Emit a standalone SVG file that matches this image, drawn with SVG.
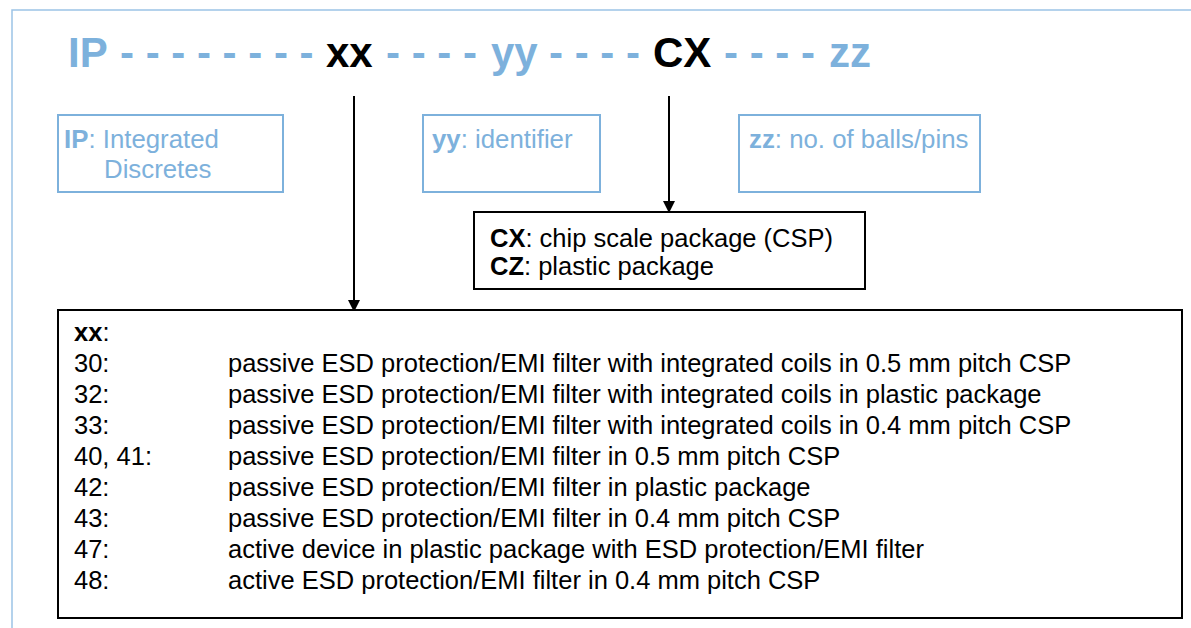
<svg xmlns="http://www.w3.org/2000/svg" width="1191" height="628" viewBox="0 0 1191 628">
<style>
text{font-family:"Liberation Sans",Arial,sans-serif}
.title{font-size:42px;font-weight:bold}
.blue{fill:#7db1dc}
.blk{fill:#000}
.bbox{fill:none;stroke:#7db1dc;stroke-width:2}
.kbox{fill:#fff;stroke:#000;stroke-width:2}
.lbl{font-size:25.8px}
.row{font-size:25.5px;fill:#000}
.b{font-weight:bold}
.conn{stroke:#000;stroke-width:2;fill:none}
</style>
<defs>
<marker id="arr" markerWidth="12" markerHeight="14" refX="10" refY="6" orient="auto" markerUnits="userSpaceOnUse" viewBox="0 0 12 12">
<path d="M0,0 L12,6 L0,12 Z" fill="#000"/>
</marker>
</defs>
<rect width="1191" height="628" fill="#fff"/>
<rect x="12" y="10" width="1200" height="640" fill="none" stroke="#9cc3e6" stroke-width="1.5"/>
<g id="title">
<text class="title" y="67"><tspan class="blue" x="68">IP</tspan><tspan class="blue" x="120">- - - - - - - -</tspan><tspan class="blk" x="326">xx</tspan><tspan class="blue" x="386">- - - -</tspan><tspan class="blue" x="491">yy</tspan><tspan class="blue" x="549">- - - -</tspan><tspan class="blk" x="653">CX</tspan><tspan class="blue" x="724">- - - -</tspan><tspan class="blue" x="829">zz</tspan></text>
</g>
<g id="connectors">
<line class="conn" x1="354" y1="96" x2="354" y2="310" marker-end="url(#arr)"/>
<line class="conn" x1="669" y1="96" x2="669" y2="211" marker-end="url(#arr)"/>
</g>
<g id="ip">
<rect class="bbox" x="58" y="115" width="225" height="77"/>
<text class="lbl blue" x="64" y="148"><tspan class="b">IP</tspan>: Integrated</text>
<text class="lbl blue" x="104" y="178">Discretes</text>
</g>
<g id="yy">
<rect class="bbox" x="423" y="115" width="177" height="77"/>
<text class="lbl blue" x="432" y="148"><tspan class="b">yy</tspan>: identifier</text>
</g>
<g id="zz">
<rect class="bbox" x="739" y="115" width="241" height="77"/>
<text class="lbl blue" x="749" y="148"><tspan class="b">zz</tspan>: no. of balls/pins</text>
</g>
<g id="cx">
<rect class="kbox" x="474" y="212" width="391" height="77"/>
<text class="row" x="490" y="247"><tspan class="b">CX</tspan>: chip scale package (CSP)</text>
<text class="row" x="490" y="275"><tspan class="b">CZ</tspan>: plastic package</text>
</g>
<g id="xx">
<rect class="kbox" x="58" y="310" width="1124" height="308"/>
<text class="row" x="74" y="341"><tspan class="b">xx</tspan>:</text>
<text class="row" x="74" y="372">30:</text><text class="row" x="228" y="372">passive ESD protection/EMI filter with integrated coils in 0.5 mm pitch CSP</text>
<text class="row" x="74" y="403">32:</text><text class="row" x="228" y="403">passive ESD protection/EMI filter with integrated coils in plastic package</text>
<text class="row" x="74" y="434">33:</text><text class="row" x="228" y="434">passive ESD protection/EMI filter with integrated coils in 0.4 mm pitch CSP</text>
<text class="row" x="74" y="465">40, 41:</text><text class="row" x="228" y="465">passive ESD protection/EMI filter in 0.5 mm pitch CSP</text>
<text class="row" x="74" y="496">42:</text><text class="row" x="228" y="496">passive ESD protection/EMI filter in plastic package</text>
<text class="row" x="74" y="527">43:</text><text class="row" x="228" y="527">passive ESD protection/EMI filter in 0.4 mm pitch CSP</text>
<text class="row" x="74" y="558">47:</text><text class="row" x="228" y="558">active device in plastic package with ESD protection/EMI filter</text>
<text class="row" x="74" y="589">48:</text><text class="row" x="228" y="589">active ESD protection/EMI filter in 0.4 mm pitch CSP</text>
</g>
</svg>
